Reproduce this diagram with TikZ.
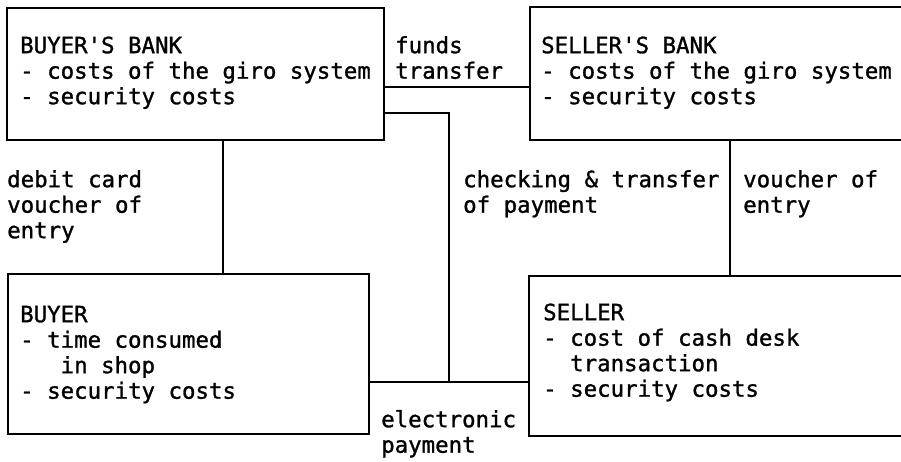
\documentclass[tikz,border=0pt]{standalone}
\usepackage{fontspec}
\newfontfamily\typefont[FakeBold=1.2]{DejaVu Sans Mono}
\newcommand{\firstline}{\rule{0pt}{18pt}}
\begin{document}
\begin{tikzpicture}[x=1pt,y=-1pt,
  box/.style={draw, line width=1.8pt, inner sep=0pt, anchor=north west},
  lbl/.style={inner sep=0pt, anchor=north west, align=left,
              font=\typefont\fontsize{22.4}{25.5}\selectfont},
  link/.style={line width=1.8pt}]
\useasboundingbox (0,0) rectangle (901,462);

% boxes
\node[box, minimum width=377pt, minimum height=132pt] (bb) at (6,7) {};
\node[box, minimum width=380pt, minimum height=133pt] (sb) at (529,6) {};
\node[box, minimum width=361pt, minimum height=160pt] (buyer) at (7,273) {};
\node[box, minimum width=380pt, minimum height=160pt] (seller) at (528,275) {};

% box texts
\node[lbl] (bbt) at (20,35) {\firstline BUYER'S BANK\\- costs of the giro system\\- security costs};
\node[lbl] (sbt) at (541,35) {\firstline SELLER'S BANK\\- costs of the giro system\\- security costs};
\node[lbl] (buyert) at (20,304) {\firstline BUYER\\- time consumed\\\phantom{xxx}in shop\\- security costs};
\node[lbl] (sellert) at (543,302) {\firstline SELLER\\- cost of cash desk\\\phantom{xx}transaction\\- security costs};

% connector labels
\node[lbl] (ftl) at (395,35) {\firstline funds\\transfer};
\node[lbl] (dcl) at (7,169) {\firstline debit card\\voucher of\\entry};
\node[lbl] (ctl) at (463,169) {\firstline checking \& transfer\\of payment};
\node[lbl] (vel) at (743,169) {\firstline voucher of\\entry};
\node[lbl] (epl) at (381,409) {\firstline electronic\\payment};

% connector positions
\coordinate (j1) at (223,0);
\coordinate (j2) at (730,0);
\coordinate (ft) at (0,87);
\coordinate (ct) at (0,113);
\coordinate (ep) at (449,382);

% connectors
\draw[link] (bb.south -| j1) -- (buyer.north -| j1);
\draw[link] (sb.south -| j2) -- (seller.north -| j2);
\draw[link] (bb.east |- ft) -- (sb.west |- ft);
\draw[link] (bb.east |- ct) -| (ep);
\draw[link] (buyer.east |- ep) -- (seller.west |- ep);
\end{tikzpicture}
\end{document}
